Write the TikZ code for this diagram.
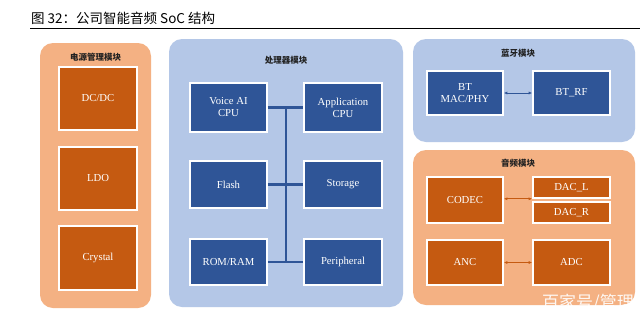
\documentclass[tikz,border=0pt]{standalone}
\usepackage{fontspec}
\setmainfont{Liberation Serif}
\newfontfamily\cjk{Noto Sans CJK SC}
\usetikzlibrary{arrows.meta}
\definecolor{panelor}{HTML}{F4B183}
\definecolor{boxor}{HTML}{C55A11}
\definecolor{panelbl}{HTML}{B4C7E7}
\definecolor{boxbl}{HTML}{2F5597}
\definecolor{ttl}{HTML}{222222}
\tikzset{
  panel/.style={rounded corners=13pt, inner sep=0pt},
  ptitle/.style={font=\cjk\bfseries\fontsize{8.5}{10}\selectfont, text=ttl, inner sep=0pt},
  obox/.style={draw=white, line width=1.6pt, fill=boxor, text=white, align=center, inner sep=0pt, font=\fontsize{10.7}{12}\selectfont},
  bbox/.style={obox, fill=boxbl},
  bus/.style={draw=boxbl, line width=2.5pt},
  barrow/.style={draw=boxbl, line width=0.8pt, {Latex[length=3.5pt,width=3pt]}-{Latex[length=3.5pt,width=3pt]}},
  oarrow/.style={draw=boxor, line width=0.8pt, {Latex[length=3.5pt,width=3pt]}-{Latex[length=3.5pt,width=3pt]}},
}
\begin{document}
\begin{tikzpicture}[x=1pt,y=-1pt]
\useasboundingbox (0,0) rectangle (640,322);
\fill[white] (0,0) rectangle (640,322);
% title
\node[anchor=west, font=\cjk\fontsize{13.5}{15}\selectfont, inner sep=0pt] (title) at (31,18) {图\ 32：公司智能音频 SoC 结构};
\draw[line width=0.9pt] (30,28.5) -- (640,28.5);
% panels
\fill[panelor, panel] (40,43) rectangle (151,308);
\fill[panelbl, panel] (169,39) rectangle (403,307);
\fill[panelbl, panel] (413,39) rectangle (635,142);
\fill[panelor, panel] (413,150) rectangle (635,305);
\node[ptitle] (t1) at (95.5,57) {电源管理模块};
\node[ptitle] (t2) at (286,60) {处理器模块};
\node[ptitle] (t3) at (518,53) {蓝牙模块};
\node[ptitle] (t4) at (518,163) {音频模块};
% power
\node[obox, minimum width=78, minimum height=63] (dcdc) at (98,98.5) {DC/DC};
\node[obox, minimum width=78, minimum height=63] (ldo) at (98,178.5) {LDO};
\node[obox, minimum width=78, minimum height=64] (crys) at (98,258) {Crystal};
% processor
\node[bbox, minimum width=77, minimum height=49] (va) at (228.5,107.5) {Voice AI\\CPU};
\node[bbox, minimum width=78, minimum height=49] (ac) at (343,107.5) {Application\\CPU};
\node[bbox, minimum width=77, minimum height=47] (fl) at (228.5,184.5) {Flash};
\node[bbox, minimum width=78, minimum height=47] (st) at (343,184.5) {Storage};
\node[bbox, minimum width=77, minimum height=46] (rr) at (228.5,262) {ROM/RAM};
\node[bbox, minimum width=78, minimum height=46] (pe) at (343,262) {Peripheral};
\coordinate (bus) at (286,0);
\draw[bus] (va.east) -- (ac.west);
\draw[bus] (fl.east) -- (st.west);
\draw[bus] (rr.east) -- (pe.west);
\draw[bus] (bus |- va.east) -- (bus |- rr.east);
% bluetooth
\node[bbox, minimum width=76, minimum height=44] (mac) at (465,93) {BT\\MAC/PHY};
\node[bbox, minimum width=77, minimum height=44] (rf) at (571.5,93) {BT\_RF};
\draw[barrow] (mac.east) -- (rf.west);
% audio
\node[obox, minimum width=76, minimum height=46] (codec) at (465,200) {CODEC};
\node[obox, minimum width=77, minimum height=21] (dacl) at (571.5,187.5) {DAC\_L};
\node[obox, minimum width=77, minimum height=21] (dacr) at (571.5,212.5) {DAC\_R};
\node[obox, minimum width=76, minimum height=45] (anc) at (465,262.5) {ANC};
\node[obox, minimum width=77, minimum height=45] (adc) at (571.5,262.5) {ADC};
\draw[oarrow] (codec.east |- dacl.south) -- (dacl.west |- dacl.south);
\draw[oarrow] (anc.east) -- (adc.west);
% watermark
\node[anchor=west, font=\cjk\fontsize{17}{19}\selectfont, text=white, opacity=0.9, inner sep=0pt] (wm) at (542,303) {百家号/管理};
\end{tikzpicture}
\end{document}
